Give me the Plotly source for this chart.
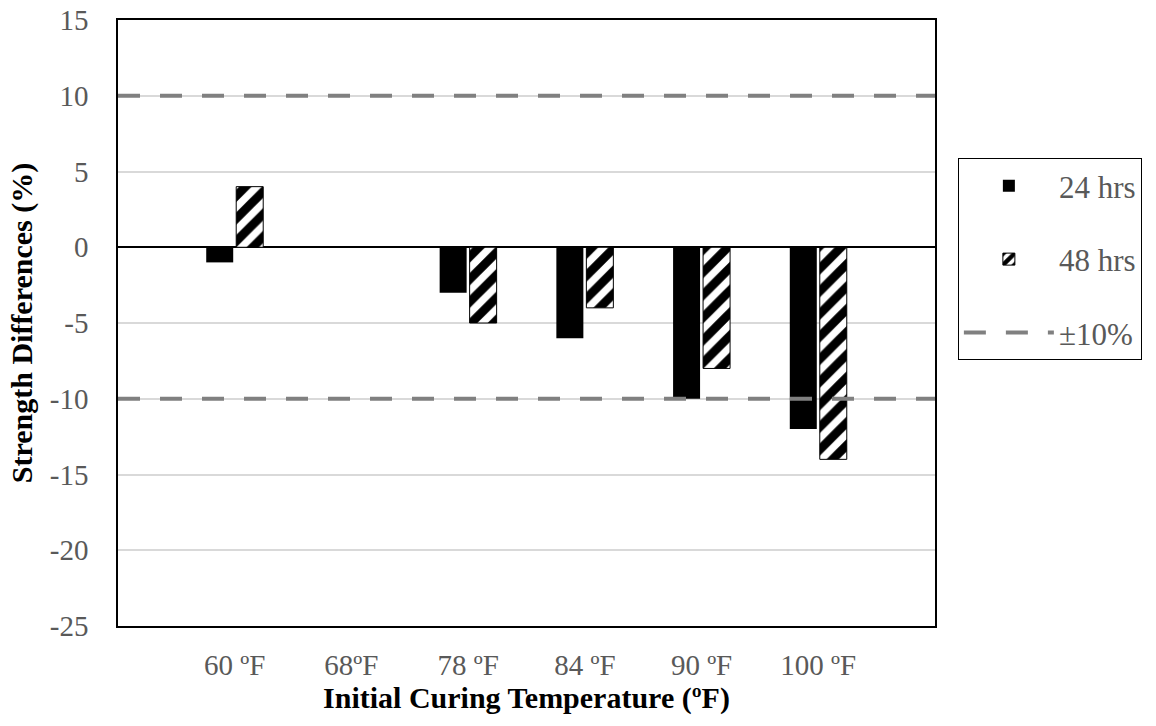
import plotly.graph_objects as go

categories = ["60 ºF", "68ºF", "78 ºF", "84 ºF", "90 ºF", "100 ºF"]
hrs24 = [-1, None, -3, -6, -10, -12]
hrs48 = [4, None, -5, -4, -8, -14]
limit = 10
y_ticks = [15, 10, 5, 0, -5, -10, -15, -20, -25]
y_tick_text = ["15", "10", "5", "0", "-5", "-10", "-15", "-20", "-25"]

xpos = list(range(1, len(categories) + 1))
xmax = len(categories) + 1

FONT = "Liberation Serif"
GREY = "#595959"

fig = go.Figure()
fig.add_trace(go.Bar(x=xpos, y=hrs24, name="24 hrs", marker=dict(color="black", line=dict(width=0)),
                     legendgroup="a"))
fig.add_trace(go.Bar(x=xpos, y=hrs48, name="48 hrs", legendgroup="b",
                     marker=dict(color="white", line=dict(color="black", width=1),
                                 pattern=dict(shape="/", fgcolor="black", bgcolor="white",
                                              fgopacity=1, size=16, solidity=0.55))))
fig.add_trace(go.Scatter(x=[0, xmax, None, 0, xmax], y=[limit, limit, None, -limit, -limit],
                         mode="lines", name="±10%", legendgroup="c",
                         line=dict(color="#808080", width=4, dash="22px,20px")))

fig.update_layout(
    width=1156, height=726,
    margin=dict(l=118, r=221, t=20, b=100, autoexpand=False),
    paper_bgcolor="white", plot_bgcolor="white",
    barmode="group", bargap=0.486, bargroupgap=0.1,
    font=dict(family=FONT, size=29, color=GREY),
    showlegend=True,
    legend=dict(x=1.028, xanchor="left", y=0.772, yanchor="top",
                bordercolor="black", borderwidth=1, font=dict(family=FONT, size=31, color=GREY),
                tracegroupgap=30, itemwidth=90),
    xaxis=dict(range=[0, xmax], tickvals=xpos, ticktext=categories, showgrid=False,
               showline=True, linecolor="black", linewidth=1.5, mirror=True, ticks="",
               ticklabelstandoff=12, automargin=False,
               tickfont=dict(family=FONT, size=29, color=GREY),
               title=dict(text="<b>Initial Curing Temperature (ºF)</b>",
                          font=dict(family=FONT, size=30, color="black"), standoff=0)),
    yaxis=dict(range=[-25, 15], tickvals=y_ticks, ticktext=y_tick_text, showgrid=True,
               gridcolor="#d9d9d9", gridwidth=1.5,
               zeroline=True, zerolinecolor="black", zerolinewidth=1.5,
               showline=True, linecolor="black", linewidth=1.5, mirror=True, ticks="",
               ticklabelstandoff=22, automargin=False,
               tickfont=dict(family=FONT, size=29, color=GREY),
               title=dict(text="<b>Strength Differences (%)</b>",
                          font=dict(family=FONT, size=30, color="black"), standoff=8)),
)

fig.write_html("out.html")
